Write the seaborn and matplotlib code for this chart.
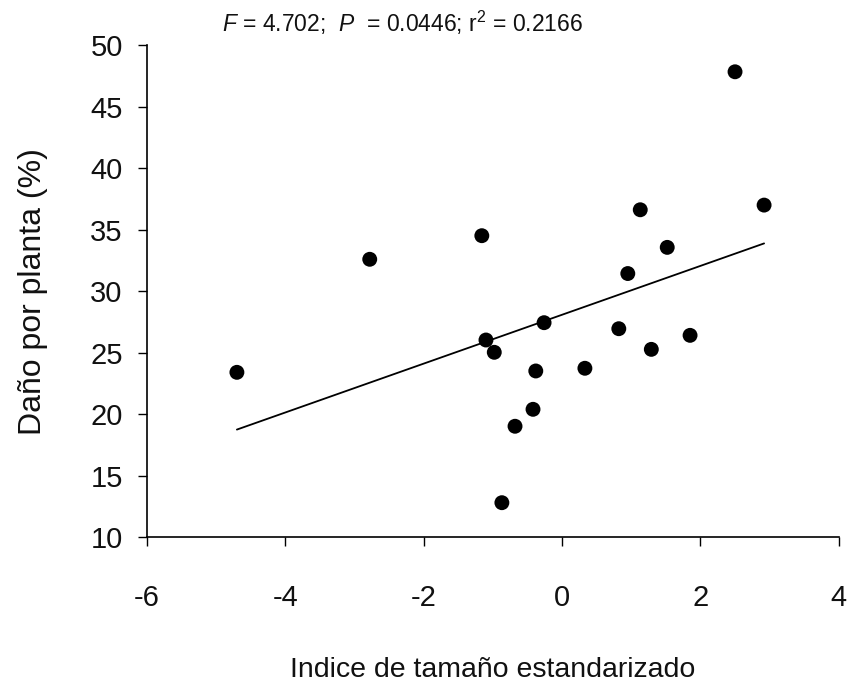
import matplotlib
matplotlib.use("Agg")
import matplotlib.pyplot as plt
import seaborn as sns
import pandas as pd

# Data
indice = [-4.70, -2.78, -1.16, -1.10, -0.98, -0.87, -0.68, -0.42, -0.38, -0.26,
          0.33, 0.82, 0.95, 1.13, 1.29, 1.52, 1.85, 2.50, 2.92]
dano = [23.40, 32.60, 34.52, 26.03, 25.03, 12.79, 19.01, 20.39, 23.51, 27.44,
        23.73, 26.95, 31.44, 36.63, 25.27, 33.57, 26.41, 47.86, 37.01]
x_ticks = [-6, -4, -2, 0, 2, 4]
y_ticks = [10, 15, 20, 25, 30, 35, 40, 45, 50]

df = pd.DataFrame({"indice": indice, "dano": dano})

sns.set_style("ticks")
plt.rcParams["font.family"] = ["Liberation Sans", "DejaVu Sans"]
plt.rcParams["mathtext.fontset"] = "custom"
plt.rcParams["mathtext.rm"] = "Liberation Sans"
plt.rcParams["mathtext.it"] = "Liberation Sans:italic"

fig = plt.figure(figsize=(8.49, 6.83), dpi=100)
ax = fig.add_axes([0.1731, 0.2138, 0.8149, 0.7196])

sns.regplot(data=df, x="indice", y="dano", ax=ax, ci=None,
            scatter_kws=dict(s=115, color="black", edgecolor="none", alpha=1, zorder=3),
            line_kws=dict(color="black", lw=1.3))

ax.set_xlim(-6, 4)
ax.set_ylim(10, 50)
ax.set_xticks(x_ticks)
ax.set_yticks(y_ticks)
ax.set_xticklabels([str(t) for t in x_ticks])
ax.set_yticklabels([str(t) for t in y_ticks])
ax.tick_params(axis="both", labelsize=21, length=6.5, width=1.0, color="black",
               labelcolor="#111111", direction="out")
ax.tick_params(axis="y", pad=11)
ax.tick_params(axis="x", pad=27)
for s in ["top", "right"]:
    ax.spines[s].set_visible(False)
for s in ["left", "bottom"]:
    ax.spines[s].set_linewidth(1.2)
    ax.spines[s].set_color("black")

ax.set_xlabel("Indice de tamaño estandarizado", fontsize=20.5, color="#111111", labelpad=33)
ax.set_ylabel("Daño por planta (%)", fontsize=23, color="#111111", labelpad=30)

fig.text(0.474, 0.966, r"$\it{F}$ = 4.702;  $\it{P}$  = 0.0446; r$^2$ = 0.2166",
         fontsize=16.5, ha="center", va="center", color="#111111")

fig.savefig("out.png", dpi=100, facecolor="white")
